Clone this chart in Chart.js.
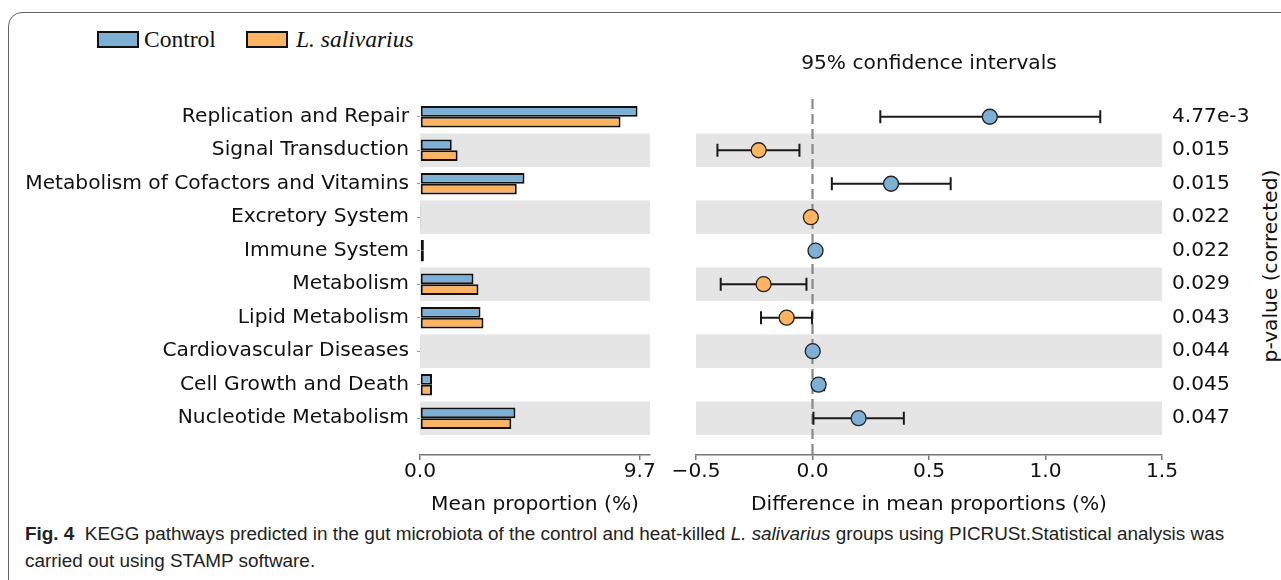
<!DOCTYPE html>
<html>
<head>
<meta charset="utf-8">
<script src="https://cdn.jsdelivr.net/npm/chart.js@4.4.1/dist/chart.umd.min.js"></script>
<style>
  body { margin: 0; width: 1281px; height: 580px; background: #fff; position: relative; overflow: hidden; font-family: "DejaVu Sans", sans-serif; }
  #frame { position: absolute; left: 8px; top: 12px; width: 1400px; height: 620px; border: 1.5px solid #666; border-radius: 14px; }
  .box { position: absolute; width: 38px; height: 13px; border: 2px solid #111; }
  .leg { position: absolute; font-family: "Liberation Serif", serif; font-size: 23.5px; color: #111; line-height: 24px; }
  #pLabel { position: absolute; left: 1270px; top: 266px; transform: translate(-50%, -50%) rotate(-90deg); font-size: 20.2px; color: #111; white-space: nowrap; }
  .cap { position: absolute; left: 25px; font-family: "Liberation Sans Narrow", "Liberation Sans", sans-serif; font-size: 18.9px; color: #222; white-space: nowrap; }
  canvas { position: absolute; top: 0; }
</style>
</head>
<body>
<div id="frame"></div>
<div class="box" style="left:97px;top:31px;background:#7eb0d5"></div>
<div class="leg" style="left:144px;top:27px">Control</div>
<div class="box" style="left:246px;top:31px;background:#fdb462"></div>
<div class="leg" style="left:296px;top:27px;font-style:italic">L. salivarius</div>
<div id="pLabel">p-value (corrected)</div>
<div class="cap" style="top:523px"><b>Fig. 4</b>&nbsp; KEGG pathways predicted in the gut microbiota of the control and heat-killed <i>L. salivarius</i> groups using PICRUSt.Statistical analysis was</div>
<div class="cap" style="top:550px">carried out using STAMP software.</div>
<canvas id="meanChart" width="670" height="520" style="left:0"></canvas>
<canvas id="diffChart" width="611" height="520" style="left:670px"></canvas>
<script>
const pathways = ['Replication and Repair', 'Signal Transduction', 'Metabolism of Cofactors and Vitamins',
  'Excretory System', 'Immune System', 'Metabolism', 'Lipid Metabolism', 'Cardiovascular Diseases',
  'Cell Growth and Death', 'Nucleotide Metabolism'];
const controlMean = [9.60, 1.40, 4.61, 0.05, 0.17, 2.36, 2.67, 0.04, 0.53, 4.21];
const salivariusMean = [8.85, 1.66, 4.27, 0.05, 0.17, 2.58, 2.80, 0.04, 0.53, 4.03];
const meanTicks = [0, 9.7];
const diffMean = [0.761, -0.231, 0.337, -0.007, 0.013, -0.210, -0.111, 0.001, 0.026, 0.198];
const ciLow = [0.291, -0.408, 0.083, -0.012, 0.008, -0.394, -0.221, -0.004, 0.007, 0.004];
const ciHigh = [1.235, -0.056, 0.593, -0.002, 0.018, -0.026, -0.002, 0.006, 0.050, 0.392];
const diffTicks = [-0.5, 0, 0.5, 1.0, 1.5];
const pValues = ['4.77e-3', '0.015', '0.015', '0.022', '0.022', '0.029', '0.043', '0.044', '0.045', '0.047'];

const blue = '#7eb0d5';
const orange = '#fdb462';
const font = { family: 'DejaVu Sans', size: 20.2 };
const rowMin = -0.53, rowMax = 10.1;

function drawBands(chart) {
    const { ctx, chartArea, scales: { y } } = chart;
    ctx.save();
    ctx.fillStyle = '#e5e5e5';
    pathways.forEach((p, i) => {
        if (i % 2 === 1) {
            const top = y.getPixelForValue(i - 0.5);
            const bot = y.getPixelForValue(i + 0.5);
            ctx.fillRect(chartArea.left, top, chartArea.right - chartArea.left, bot - top);
        }
    });
    ctx.restore();
}

function rowAxis(extra) {
    return Object.assign({
        type: 'linear', min: rowMin, max: rowMax, reverse: true, offset: false,
        afterBuildTicks: axis => { axis.ticks = pathways.map((p, i) => ({ value: i })); }
    }, extra);
}

new Chart(document.getElementById('meanChart'), {
    type: 'bar',
    data: {
        datasets: [
            { label: 'Control', data: controlMean.map((v, i) => ({ x: v, y: i })), backgroundColor: blue },
            { label: 'L. salivarius', data: salivariusMean.map((v, i) => ({ x: v, y: i })), backgroundColor: orange }
        ]
    },
    options: {
        indexAxis: 'y',
        responsive: false,
        animation: false,
        layout: { padding: { left: 0, top: 99, right: 20, bottom: 0 } },
        datasets: { bar: { borderColor: '#111', borderWidth: 2, borderSkipped: false, categoryPercentage: 0.64, barPercentage: 1 } },
        plugins: { legend: { display: false }, tooltip: { enabled: false } },
        scales: {
            x: {
                type: 'linear', min: 0, max: 10.15,
                afterBuildTicks: axis => { axis.ticks = meanTicks.map(v => ({ value: v })); },
                afterFit: scale => { scale.height = 65; },
                ticks: { font, color: '#111', padding: 0, callback: v => v.toFixed(1) },
                grid: { drawOnChartArea: false, tickLength: 5, color: '#777', lineWidth: 1.5 },
                border: { color: '#777', width: 1.5 },
                title: { display: true, text: 'Mean proportion (%)', font, color: '#111', padding: { top: 0, bottom: 3 } }
            },
            y: rowAxis({
                afterFit: scale => { scale.width = 420; },
                ticks: { font, color: '#111', padding: 8, callback: v => pathways[v] },
                grid: { drawOnChartArea: false, offset: false, tickLength: 3, color: '#999' },
                border: { display: false }
            })
        }
    },
    plugins: [{ id: 'bands', beforeDatasetsDraw: drawBands }]
});

new Chart(document.getElementById('diffChart'), {
    type: 'scatter',
    data: {
        datasets: [{
            data: diffMean.map((v, i) => ({ x: v, y: i })),
            pointBackgroundColor: diffMean.map(v => v > 0 ? blue : orange),
            pointBorderColor: '#222',
            pointBorderWidth: 1.3,
            pointRadius: 7.5
        }]
    },
    options: {
        responsive: false,
        animation: false,
        layout: { padding: { left: 26, top: 99, right: 0, bottom: 0 } },
        plugins: { legend: { display: false }, tooltip: { enabled: false } },
        scales: {
            x: {
                type: 'linear', min: -0.5, max: 1.5,
                afterBuildTicks: axis => { axis.ticks = diffTicks.map(v => ({ value: v })); },
                afterFit: scale => { scale.height = 65; },
                ticks: { font, color: '#111', padding: 0, callback: v => (v < 0 ? '\u2212' : '') + Math.abs(v).toFixed(1) },
                grid: { drawOnChartArea: false, tickLength: 5, color: '#777', lineWidth: 1.5 },
                border: { color: '#777', width: 1.5 },
                title: { display: true, text: 'Difference in mean proportions (%)', font, color: '#111', padding: { top: 0, bottom: 3 } }
            },
            y: rowAxis({ display: false }),
            y2: rowAxis({
                position: 'right',
                afterFit: scale => { scale.width = 119; },
                ticks: { font, color: '#111', padding: 10, crossAlign: 'near', callback: v => pValues[v] },
                grid: { display: false, drawTicks: false, tickLength: 0 },
                border: { display: false }
            })
        }
    },
    plugins: [{
        id: 'ci',
        beforeDatasetsDraw(chart) {
            drawBands(chart);
            const { ctx, chartArea, scales: { x, y } } = chart;
            ctx.save();
            // zero line
            ctx.strokeStyle = '#888';
            ctx.lineWidth = 2.2;
            ctx.setLineDash([10, 5]);
            ctx.beginPath();
            ctx.moveTo(x.getPixelForValue(0), chartArea.top);
            ctx.lineTo(x.getPixelForValue(0), chartArea.bottom);
            ctx.stroke();
            // error bars
            ctx.setLineDash([]);
            ctx.strokeStyle = '#1a1a1a';
            ctx.lineWidth = 2;
            pathways.forEach((p, i) => {
                const yy = y.getPixelForValue(i);
                const x0 = x.getPixelForValue(ciLow[i]);
                const x1 = x.getPixelForValue(ciHigh[i]);
                ctx.beginPath();
                ctx.moveTo(x0, yy); ctx.lineTo(x1, yy);
                ctx.moveTo(x0, yy - 6.5); ctx.lineTo(x0, yy + 6.5);
                ctx.moveTo(x1, yy - 6.5); ctx.lineTo(x1, yy + 6.5);
                ctx.stroke();
            });
            ctx.restore();
        },
        afterDraw(chart) {
            const { ctx, chartArea } = chart;
            ctx.save();
            ctx.font = '20.2px "DejaVu Sans"';
            ctx.fillStyle = '#111';
            ctx.textAlign = 'center';
            ctx.textBaseline = 'middle';
            ctx.fillText('95% confidence intervals', (chartArea.left + chartArea.right) / 2, 64);
            ctx.restore();
        }
    }]
});
</script>
</body>
</html>
